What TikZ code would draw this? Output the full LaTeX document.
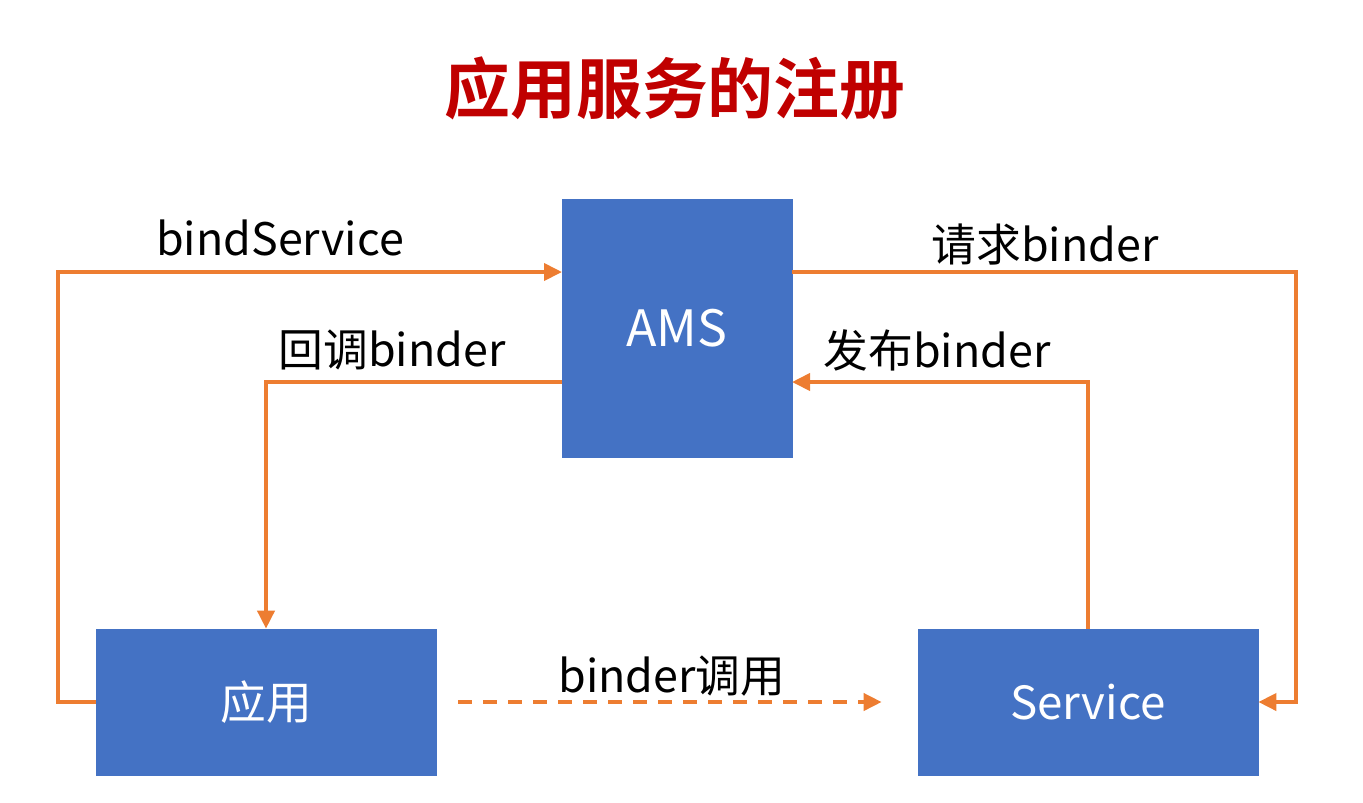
\documentclass[tikz,border=0pt]{standalone}
\usepackage{fontspec}
\setmainfont{Noto Sans CJK SC}
\newfontfamily\cjkbold{Noto Sans CJK SC}[BoldFont={* Bold}]
\usepackage{tikz}
\usetikzlibrary{
  arrows.meta,
  positioning,
}
\definecolor{boxblue}{HTML}{4472C4}
\definecolor{linkorange}{HTML}{ED7D31}
\definecolor{titlered}{HTML}{C00000}
\tikzstyle{component} = [
rectangle,
draw=boxblue,
fill=boxblue,
text=white,
font=\fontsize{26}{31}\selectfont
]
\tikzstyle{label} = [
text=black,
font=\fontsize{25.5}{30}\selectfont
]
\tikzstyle{arrow} = [draw=linkorange, line width=2.2pt, -{Triangle[length=0.36cm,width=0.34cm]}]

\begin{document}
\begin{tikzpicture}
  \useasboundingbox (0,0) rectangle (27.26,-16.04);
  % Title
  \node [text=titlered, font=\cjkbold\bfseries\fontsize{37.5}{45}\selectfont] (title) at (13.5,-1.76) {应用服务的注册};

  % Place nodes
  \node [component, minimum width=4.6cm, minimum height=5.16cm, font=\fontsize{28.5}{34}\selectfont] (ams) at (13.54,-6.56) {AMS};
  \node [component, minimum width=6.8cm, minimum height=2.92cm] (app) at (5.32,-14.04) {应用};
  \node [component, minimum width=6.8cm, minimum height=2.92cm] (svc) at (21.76,-14.04) {Service};

  \coordinate (amsbind) at (11.24,-5.44);
  \coordinate (amscb) at (11.24,-7.64);
  \coordinate (amsreq) at (15.84,-5.44);
  \coordinate (amspub) at (15.84,-7.64);

  % Draw edges
  \path [arrow] (app.west) -- ++(-0.76,0) |- (amsbind);
  \path [arrow] (amscb) -| (app.north);
  \path [arrow] (amsreq) -- ++(10.08,0) |- (svc.east);
  \path [arrow] (svc.north) |- (amspub);
  \path [arrow, dash pattern=on 0.28cm off 0.22cm, shorten <=0.44cm, shorten >=0.72cm] (app.east) -- (svc.west);

  % Labels
  \node [label] (lbind) at (5.6,-4.76) {bindService};
  \node [label] (lcb) at (7.84,-7.0) {回调binder};
  \node [label] (lreq) at (20.9,-4.9) {请求binder};
  \node [label] (lpub) at (18.74,-7.0) {发布binder};
  \node [label] (lcall) at (13.44,-13.52) {binder调用};
\end{tikzpicture}
\end{document}
